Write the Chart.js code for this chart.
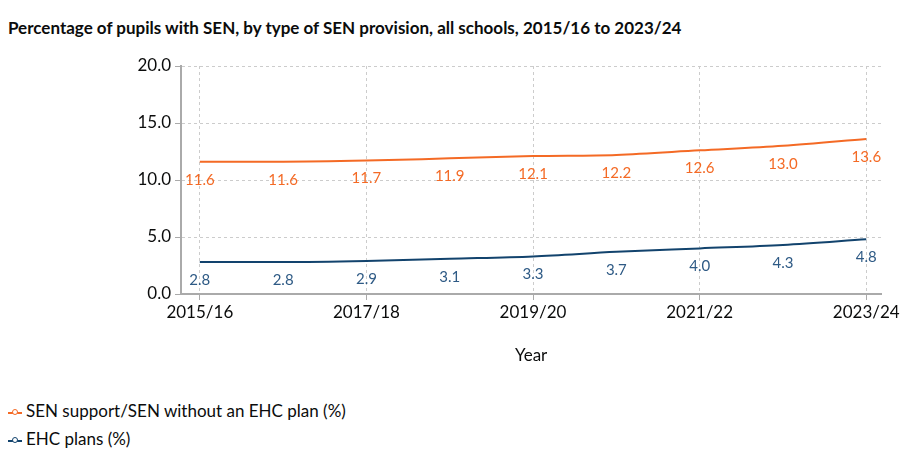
<!DOCTYPE html>
<html><head><meta charset="utf-8">
<script src="https://cdn.jsdelivr.net/npm/chart.js@4"></script>
<style>
body{margin:0;width:902px;height:463px;background:#fff;font-family:Lato,"Noto Sans",sans-serif;position:relative;overflow:hidden}
#t{position:absolute;left:8px;top:17px;font-size:17px;font-weight:bold;color:#0b0c0c}
#c{position:absolute;left:0;top:50px;width:902px;height:320px}
.lg{position:absolute;left:8px;font-size:17px;color:#0b0c0c}
.mk{display:inline-block;width:14px;height:2px;vertical-align:middle;position:relative;margin-right:4px}
.mk i{position:absolute;left:4px;top:-3px;width:4px;height:4px;border:1px solid;border-radius:50%;background:#fff}
</style></head><body>
<div id="t">Percentage of pupils with SEN, by type of SEN provision, all schools, 2015/16 to 2023/24</div>
<div id="c"><canvas id="cv"></canvas></div>
<div class="lg" style="top:400px"><span class="mk" style="background:#f46a25"><i style="border-color:#f46a25"></i></span>SEN support/SEN without an EHC plan (%)</div>
<div class="lg" style="top:428px"><span class="mk" style="background:#12436d"><i style="border-color:#12436d"></i></span>EHC plans (%)</div>
<script>
const years=["2015/16","2016/17","2017/18","2018/19","2019/20","2020/21","2021/22","2022/23","2023/24"];
const senSupport=[11.6,11.6,11.7,11.9,12.1,12.2,12.6,13.0,13.6];
const ehcPlans=[2.8,2.8,2.9,3.1,3.3,3.7,4.0,4.3,4.8];
const colors=["#f46a25","#12436d"];
const labelPlugin={id:'lbl',afterDatasetsDraw(ch){const c=ch.ctx,x=ch.scales.x,y=ch.scales.y;c.save();c.font='15px Lato, "Noto Sans"';c.textAlign='center';c.textBaseline='middle';
 ch.data.datasets.forEach((d,i)=>{c.fillStyle=i==0?colors[0]:'#2e5a85';d.data.forEach(p=>{c.fillText(p.y.toFixed(1),x.getPixelForValue(p.x),y.getPixelForValue(p.y)+18);});});c.restore();}};
new Chart(document.getElementById('cv'),{type:'line',
 data:{datasets:[
  {data:senSupport.map((v,i)=>({x:i,y:v})),borderColor:colors[0],borderWidth:2,pointRadius:0,tension:0.4,cubicInterpolationMode:'monotone'},
  {data:ehcPlans.map((v,i)=>({x:i,y:v})),borderColor:colors[1],borderWidth:2,pointRadius:0,tension:0.4,cubicInterpolationMode:'monotone'}]},
 options:{animation:false,responsive:true,maintainAspectRatio:false,
  layout:{padding:{top:16,right:15,left:0,bottom:0}},
  plugins:{legend:{display:false},tooltip:{enabled:false}},
  scales:{
   x:{type:'linear',min:-0.226,max:8.18,afterBuildTicks(s){s.ticks=[0,2,4,6,8].map(v=>({value:v}));},
    afterFit(s){s.height=76;},
    ticks:{callback:v=>years[v]??'',color:'#0b0c0c',font:{size:17,family:'Lato, "Noto Sans"'},maxRotation:0,padding:2},
    grid:{color:'#cccccc',tickColor:'#aaaaaa',tickLength:6,tickBorderDash:[],drawOnChartArea:true},
    border:{color:'#aaaaaa',width:2,dash:[3,3]},
    title:{display:true,text:'Year',color:'#0b0c0c',font:{size:17,family:'Lato, "Noto Sans"'},padding:{top:14}}},
   y:{min:0,max:20,afterFit(s){s.width=181;},
    ticks:{stepSize:5,callback:v=>v.toFixed(1),color:'#0b0c0c',font:{size:17,family:'Lato, "Noto Sans"'},padding:4},
    grid:{color:'#cccccc',tickColor:'#aaaaaa',tickLength:6,tickBorderDash:[]},
    border:{color:'#aaaaaa',width:2,dash:[3,3]}}
  }},
 plugins:[labelPlugin]
});
</script></body></html>
